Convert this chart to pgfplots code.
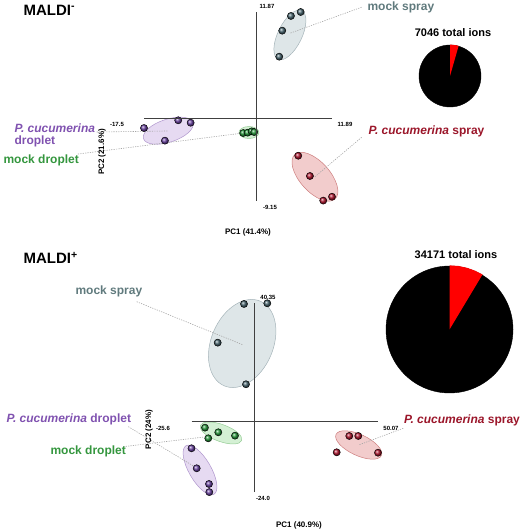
\documentclass[border=0pt]{standalone}
\usepackage{fontspec}
\setmainfont{Liberation Sans}
\usepackage{pgfplots}
\pgfplotsset{compat=1.18}

\definecolor{msText}{RGB}{96,122,125}
\definecolor{msBall}{RGB}{70,100,110}
\definecolor{msFill}{RGB}{222,230,232}
\definecolor{msEdge}{RGB}{165,180,185}
\definecolor{pdText}{RGB}{128,82,176}
\definecolor{pdBall}{RGB}{105,65,160}
\definecolor{pdFill}{RGB}{230,218,242}
\definecolor{pdEdge}{RGB}{175,150,205}
\definecolor{mdText}{RGB}{52,150,62}
\definecolor{mdBall}{RGB}{35,150,55}
\definecolor{mdFill}{RGB}{212,240,212}
\definecolor{mdEdge}{RGB}{150,205,150}
\definecolor{psText}{RGB}{155,22,42}
\definecolor{psBall}{RGB}{175,20,45}
\definecolor{psFill}{RGB}{242,204,204}
\definecolor{psEdge}{RGB}{205,125,125}

\pgfplotsset{
  pca/.style={scale only axis, axis lines=middle, axis on top, enlargelimits=false,
    xtick=\empty, ytick=\empty, clip=false, clip marker paths=true,
    axis line style={-, line width=0.8pt, black!75}},
  % confidence ellipse drawn as one mark: group, angle, semi-axes (pt)
  ell/.style n args={4}{only marks, mark=*, mark size=1pt,
    mark options={rotate=#2, xscale=#3, yscale=#4, fill=#1Fill, draw=#1Edge, line width=0.5pt}},
  balls/.style={only marks, mark=ball, mark size=3.6pt, mark options={ball color=#1Ball}},
  lead/.style={no marks, line width=0.6pt, black!35, dash pattern=on 1.2pt off 1.2pt},
  pie/.style={hide axis, scale only axis, clip=false, clip marker paths=true,
    xmin=-1, xmax=1, ymin=-1, ymax=1},
}

\begin{document}
\begin{tikzpicture}
\useasboundingbox (0pt,0pt) rectangle (520pt,530pt);

% ---------------- MALDI- ----------------
\begin{axis}[pca, at={(144pt,329.4pt)}, anchor=south west, width=188pt, height=188.6pt,
  xmin=-17.5, xmax=11.89, ymin=-9.15, ymax=11.87]
\addplot[ell={ms}{64}{27}{12}] coordinates {(5.31,9.31)};
\addplot[ell={pd}{18}{26}{11.5}] coordinates {(-13.71,-1.36)};
\addplot[ell={md}{0}{10}{6}] coordinates {(-1.09,-1.56)};
\addplot[ell={ps}{-48}{30}{15}] coordinates {(9.22,-6.49)};

\addplot[lead] coordinates {(16.52,12.40) (5.31,9.50)};
\addplot[lead] coordinates {(-24.90,-1.51) (-13.76,-1.39)};
\addplot[lead] coordinates {(-27.83,-3.96) (-2.03,-1.62)};
\addplot[lead] coordinates {(16.52,-2.10) (9.22,-6.49)};

\addplot[balls=ms] coordinates {(5.47,11.43) (6.99,11.87) (4.11,9.79) (3.64,6.89)};
\addplot[balls=pd] coordinates {(-17.5,-1.06) (-12.15,-0.20) (-10.21,-0.47) (-14.23,-2.47)};
\addplot[balls=md] coordinates {(-1.99,-1.62) (-1.30,-1.58) (-0.67,-1.43) (-0.27,-1.51)};
\addplot[balls=ps] coordinates {(6.61,-4.15) (8.44,-6.41) (10.52,-9.15) (11.89,-8.72)};
\end{axis}

\begin{axis}[pie, width=62pt, height=62pt, at={(450pt,454pt)}, anchor=center]
\addplot[only marks, mark=*, mark size=31pt, black] coordinates {(0,0)};
\addplot[fill=red, draw=none] coordinates {(0,0) (0,1.01) (0.0705,1.0076) (0.1406,1.0002) (0.2100,0.9879) (0.2784,0.9709) (0,0)};
\end{axis}

% ---------------- MALDI+ ----------------
\begin{axis}[pca, at={(191.5pt,37.9pt)}, anchor=south west, width=186.5pt, height=188.8pt,
  xmin=-25.6, xmax=50.07, ymin=-24.0, ymax=40.35]
\addplot[ell={ms}{67}{46}{31}] coordinates {(-5.03,26.65)};
\addplot[ell={pd}{120}{28}{11}] coordinates {(-22.15,-16.46)};
\addplot[ell={md}{-20}{22}{8.5}] coordinates {(-13.63,-3.85)};
\addplot[ell={ps}{-25}{25}{10.5}] coordinates {(42.24,-7.94)};

\addplot[lead] coordinates {(-47.84,40.90) (-4.58,26.14)};
\addplot[lead] coordinates {(-51.24,-1.70) (-22.15,-16.46)};
\addplot[lead] coordinates {(-53.27,-8.52) (-19.43,-5.11)};
\addplot[lead] coordinates {(60.33,-2.25) (42.24,-7.94)};

\addplot[balls=ms] coordinates {(-4.30,40.12) (5.15,40.35) (-14.97,26.93) (-3.49,12.75)};
\addplot[balls=pd] coordinates {(-25.6,-9.07) (-23.49,-15.88) (-18.50,-21.23) (-18.38,-24.0)};
\addplot[balls=md] coordinates {(-20.12,-2.04) (-14.73,-3.61) (-7.95,-4.77) (-18.79,-5.66)};
\addplot[balls=ps] coordinates {(38.42,-4.87) (42.07,-4.87) (50.07,-10.57) (33.31,-10.43)};
\end{axis}

\begin{axis}[pie, width=127pt, height=127pt, at={(449.5pt,200.5pt)}, anchor=center]
\addplot[only marks, mark=*, mark size=63.5pt, black] coordinates {(0,0)};
\addplot[fill=red, draw=none] coordinates {(0,0) (0,1.01) (0.1406,1.0002) (0.2784,0.9709) (0.4108,0.9226) (0.5202,0.8658) (0,0)};
\end{axis}

\begin{scope}[x=1pt, y=1pt]
\tikzset{lab/.style={anchor=west, font=\fontsize{12}{14}\selectfont\bfseries},
  num/.style={font=\fontsize{6}{7}\selectfont\bfseries},
  pc/.style={font=\fontsize{8}{10}\selectfont\bfseries}}
% top panel text
\node[anchor=west, font=\fontsize{15}{18}\selectfont\bfseries] at (20,520) {MALDI\textsuperscript{-}};
\node[font=\fontsize{11}{13}\selectfont\bfseries] at (453,497) {7046 total ions};
\node[lab, text=msText] at (364,523) {mock spray};
\node[lab, text=pdText] at (11,402) {\itshape P. cucumerina};
\node[lab, text=pdText] at (11,388.3) {droplet};
\node[lab, text=mdText] at (0,369.3) {mock droplet};
\node[lab, text=psText] at (365,398.3) {\itshape P. cucumerina\upshape{} spray};
\node[pc] at (248,297.3) {PC1 (41.4\%)};
\node[pc, rotate=90] at (102,378) {PC2 (21.6\%)};
\node[num] at (117,406) {-17.5};
\node[num] at (345,406) {11.89};
\node[num] at (267,524) {11.87};
\node[num] at (270,323) {-9.15};
% bottom panel text
\node[anchor=west, font=\fontsize{15}{18}\selectfont\bfseries] at (20,271.7) {MALDI\textsuperscript{+}};
\node[font=\fontsize{11}{13}\selectfont\bfseries] at (456,275) {34171 total ions};
\node[lab, text=msText] at (72,238.3) {mock spray};
\node[lab, text=pdText] at (3,110.7) {\itshape P. cucumerina\upshape{} droplet};
\node[lab, text=mdText] at (47,78.3) {mock droplet};
\node[lab, text=psText] at (400.5,110) {\itshape P. cucumerina\upshape{} spray};
\node[pc] at (299,5) {PC1 (40.9\%)};
\node[pc, rotate=90] at (149,100.5) {PC2 (24\%)};
\node[num] at (163,102) {-25.6};
\node[num] at (391,102) {50.07};
\node[num] at (268,233) {40.35};
\node[num] at (263,32) {-24.0};
\end{scope}
\end{tikzpicture}
\end{document}
